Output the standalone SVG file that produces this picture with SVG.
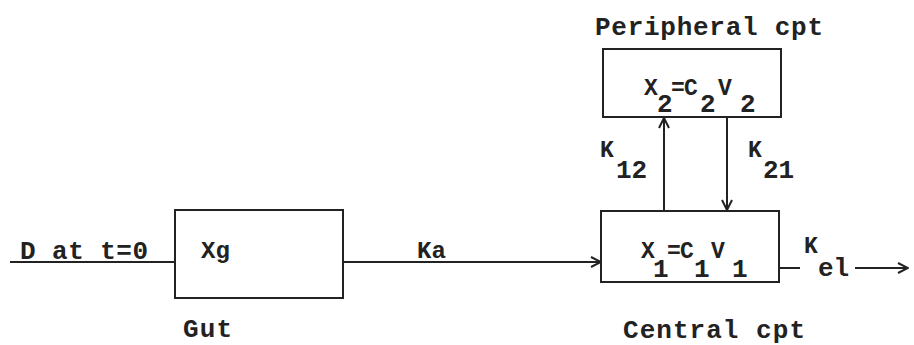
<svg xmlns="http://www.w3.org/2000/svg" width="914" height="345" viewBox="0 0 914 345">
<style>
  .box { fill: none; stroke: #222; stroke-width: 2; }
  .ln { fill: none; stroke: #222; stroke-width: 2; }
  .t { font-family: "Liberation Mono", "DejaVu Sans Mono", monospace; font-weight: bold; fill: #222; }
  .big { font-size: 26px; }
  .sub { font-size: 26px; }
  .mid { font-size: 24px; }
  .sm { font-size: 23px; }
</style>
<defs>
  <marker id="arr" viewBox="0 0 12 12" refX="11" refY="6" markerWidth="12" markerHeight="12" markerUnits="userSpaceOnUse" orient="auto">
    <path d="M1,1 L11,6 L1,11" fill="none" stroke="#222" stroke-width="2"/>
  </marker>
</defs>
<rect width="914" height="345" fill="#fff"/>

<g id="input">
  <text class="t big" x="20" y="259" textLength="128" lengthAdjust="spacing">D at t=0</text>
</g>

<g id="gut">
  <rect class="box" x="175" y="210" width="168" height="88"/>
  <text class="t mid" x="201" y="258">Xg</text>
  <text class="t big" x="183" y="337" textLength="49" lengthAdjust="spacing">Gut</text>
</g>

<g id="central">
  <rect class="box" x="601" y="211" width="178" height="71"/>
  <text class="t sm"><tspan x="641" y="258">X</tspan><tspan class="sub" x="653" y="277">1</tspan><tspan x="667" y="258">=</tspan><tspan x="680" y="258">C</tspan><tspan class="sub" x="694" y="277">1</tspan><tspan x="711" y="258">V</tspan><tspan class="sub" x="732" y="277">1</tspan></text>
  <text class="t big" x="623" y="338" textLength="182" lengthAdjust="spacing">Central cpt</text>
</g>

<g id="peripheral">
  <rect class="box" x="603" y="49" width="178" height="68"/>
  <text class="t sm"><tspan x="644" y="95">X</tspan><tspan class="sub" x="657" y="112">2</tspan><tspan x="671" y="95">=</tspan><tspan x="684" y="95">C</tspan><tspan class="sub" x="700" y="112">2</tspan><tspan x="718" y="95">V</tspan><tspan class="sub" x="740" y="112">2</tspan></text>
  <text class="t big" x="595" y="35" textLength="228" lengthAdjust="spacing">Peripheral cpt</text>
</g>

<g id="connectors">
  <line class="ln" x1="10" y1="262" x2="175" y2="262"/>
  <line class="ln" x1="343" y1="262" x2="601" y2="262" marker-end="url(#arr)"/>
  <text class="t mid" x="417" y="258">Ka</text>

  <line class="ln" x1="664" y1="211" x2="664" y2="118" marker-end="url(#arr)"/>
  <text class="t sm"><tspan x="600" y="157">K</tspan><tspan class="sub" x="616" y="178">12</tspan></text>

  <line class="ln" x1="727" y1="117" x2="727" y2="210" marker-end="url(#arr)"/>
  <text class="t sm"><tspan x="748" y="157">K</tspan><tspan class="sub" x="763" y="178">21</tspan></text>

  <line class="ln" x1="779" y1="268" x2="800" y2="268"/>
  <text class="t sm"><tspan x="804" y="253">K</tspan><tspan class="sub" x="818" y="276">el</tspan></text>
  <line class="ln" x1="855" y1="268" x2="908" y2="268" marker-end="url(#arr)"/>
</g>
</svg>
